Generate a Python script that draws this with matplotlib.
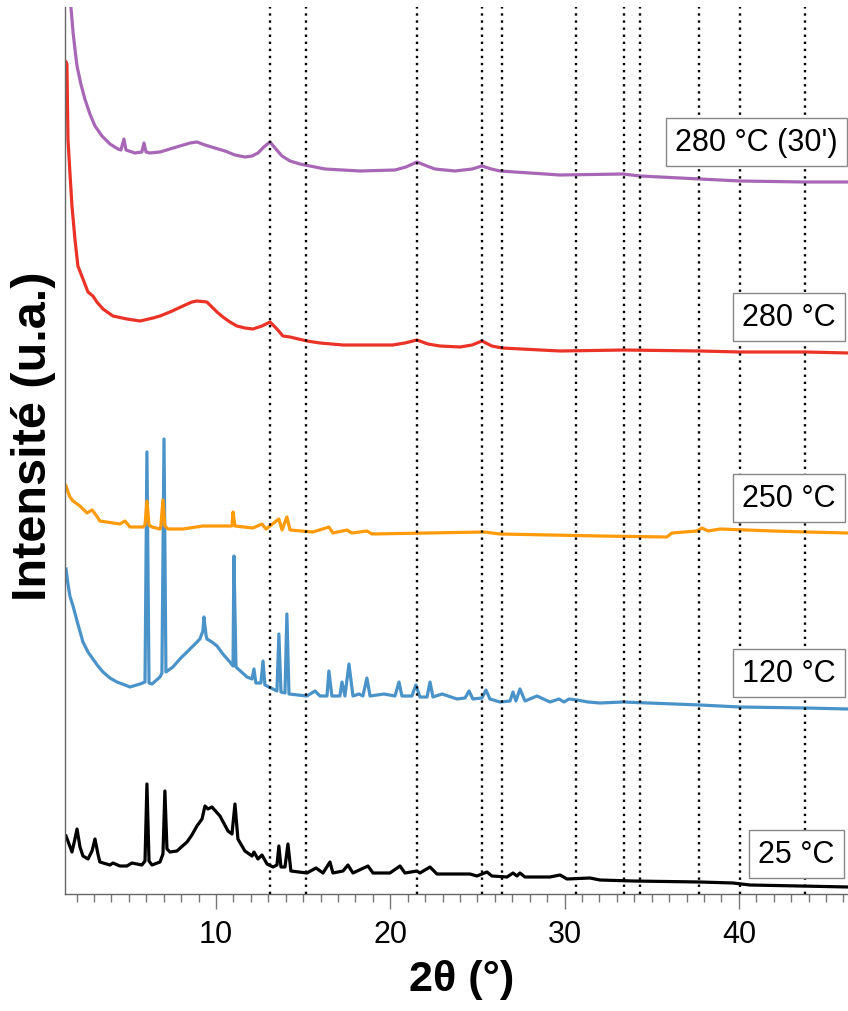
import matplotlib
matplotlib.use('Agg')
import matplotlib.pyplot as plt
from matplotlib.ticker import MultipleLocator

plt.rcParams['font.family'] = ['Liberation Sans', 'DejaVu Sans']

# 25 °C
tt_25 = [1.40, 1.74, 1.91, 2.03, 2.20, 2.37, 2.66, 2.89, 3.06, 3.23, 3.34, 3.92, 4.09, 4.49, 4.89,
         5.18, 5.75, 5.93, 6.04, 6.16, 6.33, 6.79, 6.96, 7.07, 7.19, 7.36, 7.76, 8.34, 8.62, 8.91, 9.20,
         9.37, 9.54, 9.77, 10.23, 10.69, 10.92, 11.09, 11.26, 11.66, 12.07, 12.18, 12.41, 12.64,
         12.93, 13.27, 13.50, 13.61, 13.73, 13.96, 14.13, 14.30, 15.22, 15.74, 16.14, 16.54, 16.71,
         17.29, 17.57, 17.86, 18.72, 19.01, 19.98, 20.56, 20.84, 21.53, 21.70, 22.28, 22.68, 24.57,
         24.97, 25.55, 25.83, 26.70, 27.04, 27.27, 27.44, 27.73, 29.16, 29.74, 30.14, 31.46, 32.03,
         33.92, 37.77, 39.66, 40.64, 43.50, 46.26]
i_25 = [58, 42, 55, 65, 47, 38, 35, 43, 55, 40, 32, 29, 31, 28, 28,
        31, 29, 33, 110, 33, 29, 32, 40, 103, 45, 42, 43, 52, 59, 68, 75,
        88, 85, 87, 78, 63, 60, 90, 55, 43, 38, 42, 35, 39,
        30, 27, 29, 48, 27, 27, 50, 23, 21, 26, 21, 32, 21,
        23, 29, 21, 28, 21, 21, 28, 21, 23, 21, 27, 20, 20,
        18, 22, 18, 17, 21, 18, 21, 17, 17, 19, 15, 16, 14,
        13, 12, 11, 9, 8, 7]

# 120 °C
tt_120 = [1.40, 1.51, 1.62, 1.80, 2.03, 2.37, 2.66, 2.94, 3.23, 3.52, 3.92, 4.32, 4.78, 5.07,
          5.64, 5.93, 6.04, 6.16, 6.33, 6.79, 6.90,
          7.02, 7.13, 7.53, 7.93, 8.51, 8.91, 9.08, 9.25, 9.31, 9.43, 9.48, 9.77, 10.06, 10.40,
          10.80, 10.98, 11.03, 11.15,
          11.78, 12.07, 12.18, 12.29, 12.58, 12.70, 12.81, 13.27, 13.50, 13.61, 13.73, 13.96, 14.07,
          14.19, 15.22, 15.68, 15.97, 16.37, 16.48, 16.65, 17.11, 17.23, 17.40, 17.63, 17.86, 18.20,
          18.43, 18.66, 18.84, 19.64, 20.27, 20.50, 20.67, 21.24, 21.47, 21.70, 22.11, 22.28, 22.45,
          22.97, 23.83, 24.29, 24.52, 24.74, 25.26, 25.49, 25.72, 26.29, 26.87, 27.04, 27.21, 27.44,
          27.73, 28.42, 29.16, 29.68, 29.97, 30.25, 30.71, 31.34, 32.03, 33.35, 37.77, 40.06, 43.85,
          46.26]
i_120 = [325, 310, 298, 288, 273, 252, 242, 235, 228, 222, 216, 212, 209, 207,
         210, 212, 442, 211, 210, 217, 221,
         455, 222, 227, 235, 245, 252, 255, 263, 277, 259, 255, 252, 248, 240,
         232, 228, 338, 227,
         217, 215, 225, 211, 211, 233, 209, 205, 203, 260, 202, 201, 280,
         200, 198, 203, 198, 198, 223, 198, 198, 212, 198, 230, 198, 200,
         198, 216, 198, 200, 198, 212, 198, 198, 209, 197, 197, 212, 197,
         200, 195, 196, 203, 195, 196, 204, 195, 192, 193, 202, 193, 205,
         193, 198, 192, 195, 192, 195, 194, 192, 191, 192, 189, 187, 186,
         185]

# 250 °C
tt_250 = [1.40, 1.51, 1.62, 1.80, 2.20, 2.60, 2.89, 3.12, 3.34, 4.49, 4.78, 5.07, 5.81, 5.93, 6.04, 6.16,
          6.33, 6.79, 6.84, 6.96, 7.07, 7.25, 8.11, 9.25, 10.40, 10.92, 10.98, 11.09, 12.12, 12.64,
          12.87, 13.61, 13.79, 14.07, 14.25, 15.57, 16.48, 16.71, 17.52, 17.80, 18.66, 18.95, 22.16,
          25.38, 26.29, 32.03, 35.87, 36.16, 37.60, 37.88, 38.23, 38.92, 41.96, 43.91, 46.26]
i_250 = [408, 402, 397, 393, 388, 381, 384, 379, 373, 370, 373, 367, 367, 369, 393, 369,
         367, 365, 368, 394, 368, 365, 365, 368, 368, 368, 382, 368, 366, 370,
         365, 375, 364, 377, 364, 362, 367, 361, 364, 361, 363, 360, 361,
         362, 360, 358, 357, 361, 363, 366, 363, 365, 363, 362, 361]

# 280 °C
tt_280 = [1.40, 1.45, 1.51, 1.62, 1.74, 1.91, 2.08, 2.37, 2.66, 2.94, 3.17, 3.52, 4.09, 4.89,
          5.64, 6.39, 6.79, 7.36, 8.11, 8.62, 8.91, 9.48, 10.06, 10.40, 10.80, 11.20, 11.66, 12.12,
          12.64, 13.10, 13.50, 13.84, 14.25, 15.22, 15.97, 17.29, 20.15, 20.84, 21.53, 22.16, 22.85,
          24.00, 24.69, 25.26, 25.83, 26.41, 29.74, 33.41, 37.77, 40.06, 43.85, 46.26]
i_280 = [832, 830, 755, 722, 688, 655, 628, 615, 602, 598, 592, 585, 578, 575,
         573, 576, 578, 582, 588, 592, 593, 592, 582, 577, 572, 568, 566, 565,
         568, 572, 565, 558, 557, 553, 551, 549, 549, 551, 554, 550, 548,
         547, 549, 553, 548, 546, 543, 544, 543, 542, 542, 541]

# 280 °C (30')
tt_280_30 = [1.45, 1.68, 1.80, 1.91, 2.03, 2.25, 2.48, 2.77, 3.06, 3.46, 3.92, 4.38, 4.55, 4.72,
             4.84, 5.35, 5.75, 5.87, 5.99, 6.21, 6.79, 7.36, 7.93, 8.51, 8.91, 9.37, 9.94, 10.52,
             11.09, 11.66, 12.07, 12.41, 12.75, 13.10, 13.44, 13.79, 14.25, 14.82, 15.11, 16.25,
             18.26, 20.27, 20.90, 21.53, 22.10, 22.56, 23.71, 24.70, 25.26, 25.80, 26.29, 29.74,
             33.35, 34.33, 37.77, 40.06, 43.79, 46.26]
i_280_30 = [1000, 887, 862, 845, 828, 810, 795, 780, 768, 758, 750, 745, 744, 755,
            744, 741, 742, 751, 742, 741, 742, 745, 748, 751, 752, 749, 746, 743,
            739, 737, 738, 741, 747, 752, 745, 738, 733, 730, 729, 725,
            723, 724, 727, 732, 728, 725, 723, 725, 728, 725, 723, 719,
            720, 718, 715, 713, 712, 712]

series = [
    (tt_25, i_25, '#000000'),
    (tt_120, i_120, '#4a93c9'),
    (tt_250, i_250, '#ff9a0a'),
    (tt_280, i_280, '#ea3326'),
    (tt_280_30, i_280_30, '#a767b6'),
]

labels = ["25 °C", "120 °C", "250 °C", "280 °C", "280 °C (30')"]
label_x = [41.10, 40.18, 40.18, 40.18, 36.34]
label_y = [40, 221, 396, 577, 752]

# reference reflections
refs = [13.10, 15.15, 21.52, 25.29, 26.40, 30.63, 33.40, 34.32, 37.70, 40.07, 43.82]

fig = plt.figure(figsize=(8.48, 10.12), dpi=100)
ax = fig.add_axes([65 / 848, 117 / 1012, 1 - 65 / 848, 887 / 1012])

for tt, inten, col in series:
    ax.plot(tt, inten, color=col, lw=2.3, zorder=2, solid_joinstyle='round')

for r in refs:
    ax.axvline(r, color='black', lw=1.7, ls=(0, (1, 2)), zorder=3)

for lab, lx, ly in zip(labels, label_x, label_y):
    ax.text(lx, ly, lab, fontsize=22, ha='left', va='center', zorder=5,
            bbox=dict(boxstyle='square,pad=0.3', fc='white', ec='#888888', lw=1))

ax.set_xlim(1.34, 46.26)
ax.set_ylim(0, 887)
ax.xaxis.set_major_locator(MultipleLocator(10))
ax.xaxis.set_minor_locator(MultipleLocator(1))
ax.tick_params(axis='x', which='major', length=11, width=1, color='#777777',
               labelsize=22, pad=7)
ax.tick_params(axis='x', which='minor', length=6, width=1, color='#777777')
ax.set_yticks([])
for s in ['top', 'right']:
    ax.spines[s].set_visible(False)
for s in ['left', 'bottom']:
    ax.spines[s].set_color('#666666')
    ax.spines[s].set_linewidth(1)

ax.set_xlabel('2θ (°)', fontsize=31, fontweight='bold')
ax.xaxis.set_label_coords(0.506, -0.073)
ax.set_ylabel('Intensité (u.a.)', fontsize=35, fontweight='bold')
ax.yaxis.set_label_coords(-0.012, 0.517)

fig.savefig('out.png', dpi=100)
